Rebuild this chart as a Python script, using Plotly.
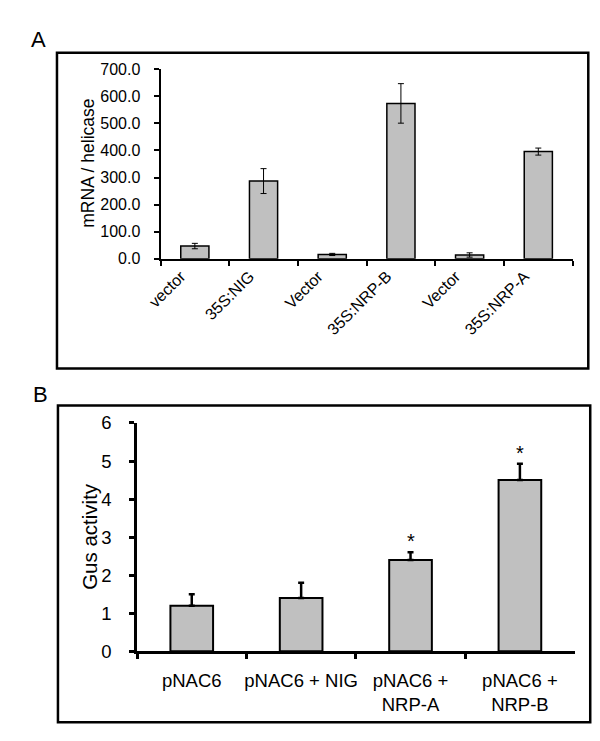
import plotly.graph_objects as go

# ---------------- data ----------------
a_categories = ["vector", "35S:NIG", "Vector", "35S:NRP-B", "Vector", "35S:NRP-A"]
a_values = [47, 287, 16, 574, 14, 396]
a_errors = [10, 46, 4, 73, 8, 13]
a_yticks = [0, 100, 200, 300, 400, 500, 600, 700]

b_categories = ["pNAC6", "pNAC6 + NIG", "pNAC6 +<br>NRP-A", "pNAC6 +<br>NRP-B"]
b_values = [1.2, 1.4, 2.4, 4.5]
b_errors = [0.3, 0.4, 0.2, 0.43]
b_stars = ["", "", "*", "*"]
b_yticks = [0, 1, 2, 3, 4, 5, 6]

FONT = "Arial, Liberation Sans, sans-serif"
W, H = 600, 741

def px(x):
    return x / W

def py(y):
    return 1 - y / H

# unique keys so that the two "Vector" bars stay separate
a_keys = [f"a{i}" for i in range(len(a_categories))]

fig = go.Figure()

fig.add_trace(go.Bar(
    x=a_keys, y=a_values, xaxis="x", yaxis="y", width=0.41,
    marker=dict(color="#C0C0C0", line=dict(color="black", width=1.5)),
    error_y=dict(type="data", array=a_errors, visible=True,
                 color="black", thickness=1, width=3),
    showlegend=False, hoverinfo="skip",
))

fig.add_trace(go.Bar(
    x=b_categories, y=b_values, xaxis="x2", yaxis="y2", width=0.39,
    marker=dict(color="#C0C0C0", line=dict(color="black", width=2)),
    error_y=dict(type="data", symmetric=False, array=b_errors,
                 arrayminus=[0] * len(b_errors), visible=True,
                 color="black", thickness=2.5, width=3),
    showlegend=False, hoverinfo="skip",
))

axis_common = dict(showline=True, linecolor="black", ticks="outside",
                   tickcolor="black", showgrid=False, zeroline=False)

fig.update_layout(
    width=W, height=H,
    margin=dict(l=0, r=0, t=0, b=0),
    paper_bgcolor="white", plot_bgcolor="white",
    font=dict(family=FONT, color="black"),
    xaxis=dict(domain=[px(150), px(572)], anchor="y", type="category",
               tickmode="array", tickvals=a_keys, ticktext=a_categories,
               tickson="boundaries", ticklen=5, tickwidth=2, linewidth=2,
               tickangle=-45, tickfont=dict(size=16), ticklabelstandoff=0,
               ticklabelshift=-14, **axis_common),
    yaxis=dict(domain=[py(255), py(60)], anchor="x", range=[0, 700],
               tickvals=a_yticks, ticktext=[f"{v:.1f}" for v in a_yticks],
               ticklen=5, tickwidth=2, linewidth=2,
               tickfont=dict(size=16), ticklabelstandoff=10, **axis_common),
    xaxis2=dict(domain=[px(126), px(574)], anchor="y2", type="category",
                tickson="boundaries", ticklen=5, tickwidth=2.5, linewidth=2.5,
                tickangle=0, tickfont=dict(size=18.5), ticklabelstandoff=11,
                **axis_common),
    yaxis2=dict(domain=[py(659), py(424)], anchor="x2", range=[0, 6],
                tickvals=b_yticks, ticklen=5, tickwidth=2.5, linewidth=2.5,
                tickfont=dict(size=18.5), ticklabelstandoff=14, **axis_common),
)

# frames
fig.add_shape(type="rect", xref="paper", yref="paper",
              x0=px(44), x1=px(588), y0=py(368), y1=py(43),
              line=dict(color="black", width=2.5), layer="below")
fig.add_shape(type="rect", xref="paper", yref="paper",
              x0=px(45), x1=px(590), y0=py(732), y1=py(406),
              line=dict(color="black", width=2.5), layer="below")

# panel letters
fig.add_annotation(text="A", x=px(25), y=py(29), xref="paper", yref="paper",
                   showarrow=False, font=dict(size=22), xanchor="center", yanchor="middle")
fig.add_annotation(text="B", x=px(27), y=py(395), xref="paper", yref="paper",
                   showarrow=False, font=dict(size=22), xanchor="center", yanchor="middle")

# axis titles
fig.add_annotation(text="mRNA / helicase", x=px(75), y=py(157), xref="paper", yref="paper",
                   showarrow=False, textangle=-90, font=dict(size=17.5),
                   xanchor="center", yanchor="middle")
fig.add_annotation(text="Gus activity", x=px(77), y=py(541), xref="paper", yref="paper",
                   showarrow=False, textangle=-90, font=dict(size=20.5),
                   xanchor="center", yanchor="middle")

# significance stars
for cat, v, e, s in zip(b_categories, b_values, b_errors, b_stars):
    if s:
        fig.add_annotation(text=s, x=cat, y=v + e, xref="x2", yref="y2",
                           showarrow=False, font=dict(size=20),
                           yanchor="bottom", yshift=-2)

fig.write_html("out.html", config={"displayModeBar": False},
               post_script="document.body.style.margin='0';")
